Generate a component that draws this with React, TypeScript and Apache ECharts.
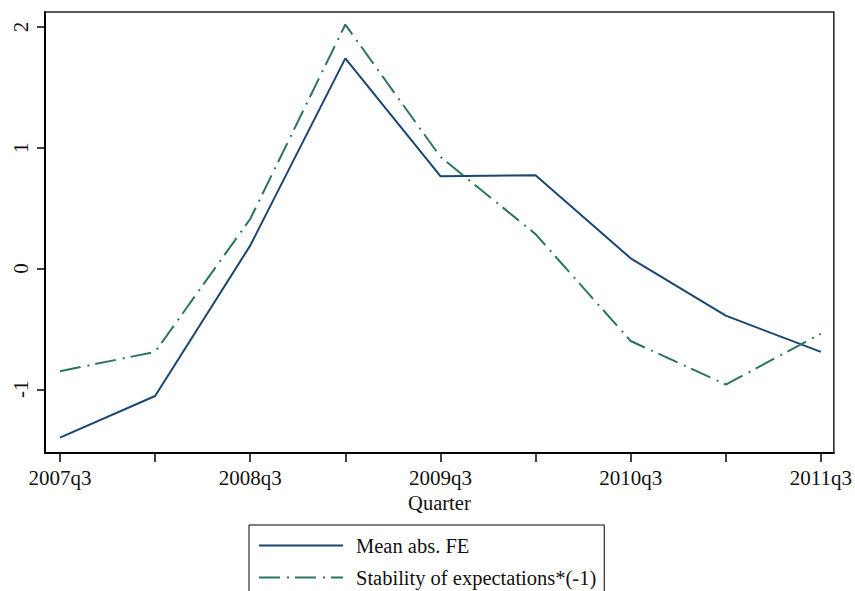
import React, { useEffect, useRef } from "react";
import * as echarts from "echarts";

const quarters = ["2007q3", "2008q1", "2008q3", "2009q1", "2009q3", "2010q1", "2010q3", "2011q1", "2011q3"];
const meanAbsFE = [-1.4, -1.055, 0.19, 1.74, 0.765, 0.772, 0.085, -0.39, -0.69];
const stability = [-0.85, -0.69, 0.41, 2.02, 0.925, 0.285, -0.6, -0.96, -0.54];
const yTicks = [-1, 0, 1, 2];
const xTickIdx = [0, 1, 2, 3, 4, 5, 6, 7, 8];
const xLabelIdx = [0, 2, 4, 6, 8];

const FONT = "Liberation Serif";

export default function App() {
  const ref = useRef<HTMLDivElement>(null);
  useEffect(() => {
    if (!ref.current) return;
    const chart = echarts.init(ref.current, null, { renderer: "svg" });
    chart.setOption({
      animation: false,
      backgroundColor: "#fff",
      textStyle: { fontFamily: FONT },
      grid: {
        left: 45,
        right: 20,
        top: 12,
        bottom: 138,
        show: true,
        borderColor: "#222",
        borderWidth: 1.5,
        containLabel: false,
      },
      xAxis: {
        type: "value",
        min: -0.1575,
        max: 8.136,
        name: "Quarter",
        nameLocation: "middle",
        nameGap: 37,
        nameTextStyle: { fontFamily: FONT, fontSize: 20.5, color: "#111" },
        axisLine: { show: true, onZero: false, lineStyle: { color: "#000", width: 2 } },
        axisTick: { show: true, length: 9, customValues: xTickIdx, lineStyle: { color: "#000", width: 1.5 } },
        axisLabel: {
          customValues: xLabelIdx,
          margin: 14,
          fontFamily: FONT,
          fontSize: 21,
          color: "#111",
          formatter: (v: number) => quarters[Math.round(v)] ?? "",
        },
        splitLine: { show: false },
      },
      yAxis: {
        type: "value",
        min: -1.527,
        max: 2.124,
        axisLine: { show: true, onZero: false, lineStyle: { color: "#000", width: 2 } },
        axisTick: { show: true, length: 8, customValues: yTicks, lineStyle: { color: "#000", width: 1.5 } },
        axisLabel: {
          customValues: yTicks,
          rotate: 90,
          margin: 14,
          fontFamily: FONT,
          fontSize: 21,
          color: "#111",
        },
        splitLine: { show: false },
      },
      legend: {
        orient: "vertical",
        left: 249,
        top: 525,
        height: 150,
        padding: [10, 8, 30, 9],
        itemGap: 11,
        itemWidth: 84,
        itemHeight: 14,
        borderColor: "#000",
        borderWidth: 1,
        backgroundColor: "#fff",
        itemStyle: { opacity: 0, borderWidth: 0 },
        textStyle: { fontFamily: FONT, fontSize: 20.5, color: "#111", padding: [0, 0, 0, 8] },
        data: ["Mean abs. FE", "Stability of expectations*(-1)"],
      },
      series: [
        {
          name: "Mean abs. FE",
          type: "line",
          symbol: "none",
          data: meanAbsFE.map((v, i) => [i, v]),
          lineStyle: { color: "#1a476f", width: 2 },
          itemStyle: { color: "#1a476f" },
        },
        {
          name: "Stability of expectations*(-1)",
          type: "line",
          symbol: "none",
          data: stability.map((v, i) => [i, v]),
          lineStyle: { color: "#2b7363", width: 2, type: [21, 7, 2, 6] },
          itemStyle: { color: "#2b7363" },
        },
      ],
    });
    return () => chart.dispose();
  }, []);
  return <div ref={ref} style={{ position: "fixed", left: 0, top: 0, width: 855, height: 591 }} />;
}
